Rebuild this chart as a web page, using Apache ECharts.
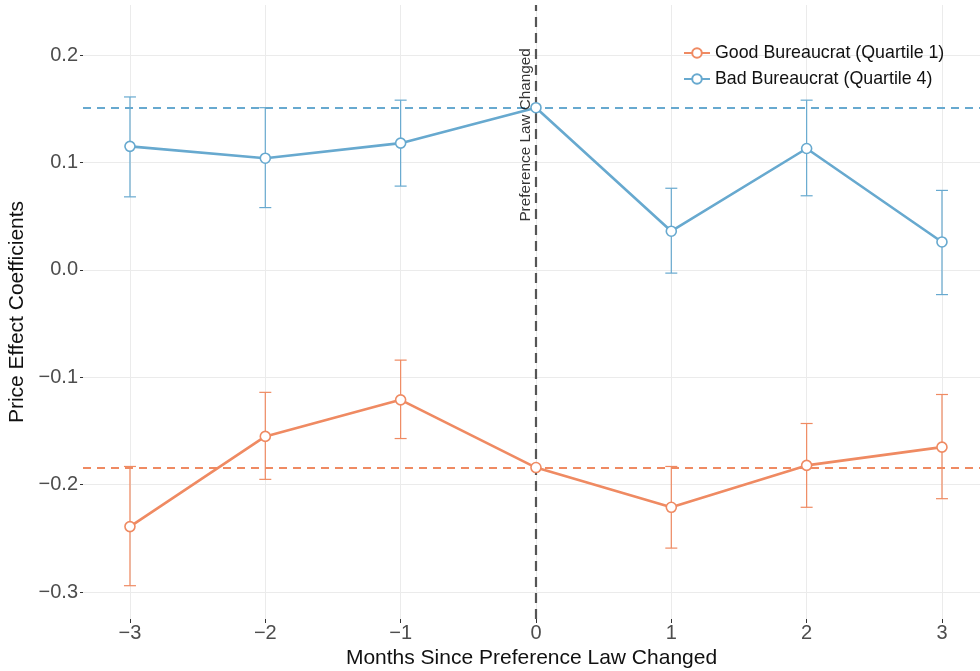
<!DOCTYPE html>
<html><head><meta charset="utf-8">
<script src="https://cdn.jsdelivr.net/npm/echarts@6/dist/echarts.min.js"></script>
<style>html,body{margin:0;padding:0;background:#fff}#c{width:980px;height:671px}</style>
</head><body><div id="c"></div>
<script>
const months   = [-3, -2, -1, 0, 1, 2, 3];
const goodEst  = [-0.239, -0.155, -0.121, -0.184, -0.221, -0.182, -0.165];
const goodLow  = [-0.294, -0.195, -0.157, null, -0.259, -0.221, -0.213];
const goodHigh = [-0.183, -0.114, -0.084, null, -0.183, -0.143, -0.116];
const badEst   = [0.115, 0.104, 0.118, 0.151, 0.036, 0.113, 0.026];
const badLow   = [0.068, 0.058, 0.078, null, -0.003, 0.069, -0.023];
const badHigh  = [0.161, 0.151, 0.158, null, 0.076, 0.158, 0.074];
const goodRef  = -0.184;
const badRef   = 0.151;
const yTicks   = [-0.3, -0.2, -0.1, 0, 0.1, 0.2];
const xTicks   = [-3, -2, -1, 0, 1, 2, 3];
const goodName = 'Good Bureaucrat (Quartile 1)';
const badName  = 'Bad Bureaucrat (Quartile 4)';
const annotText = 'Preference Law Changed';

const ORANGE = '#EF8A62', BLUE = '#67A9CF';
const FONT = '"Liberation Sans", Arial, sans-serif';
const fmtNum = v => {
  const r = Math.round(v * 10) / 10;
  const s = Math.abs(r).toFixed(1);
  return r < 0 ? '\u2212' + s : s;
};
const fmtInt = v => (v < 0 ? '\u2212' + Math.abs(v) : String(v));

function errData(low, high) {
  const out = [];
  months.forEach((m, i) => { if (low[i] != null) out.push([m, low[i], high[i]]); });
  return out;
}
function errRender(color) {
  return function (params, api) {
    const x = api.value(0);
    const lo = api.coord([x, api.value(1)]);
    const hi = api.coord([x, api.value(2)]);
    const hw = 6;
    const st = { stroke: color, lineWidth: 1.2 };
    return { type: 'group', children: [
      { type: 'line', shape: { x1: lo[0], y1: lo[1], x2: hi[0], y2: hi[1] }, style: st },
      { type: 'line', shape: { x1: lo[0] - hw, y1: lo[1], x2: lo[0] + hw, y2: lo[1] }, style: st },
      { type: 'line', shape: { x1: hi[0] - hw, y1: hi[1], x2: hi[0] + hw, y2: hi[1] }, style: st }
    ]};
  };
}
function lineSeries(name, est, color, ref) {
  return {
    name, type: 'line', data: months.map((m, i) => [m, est[i]]),
    symbol: 'circle', symbolSize: 10, z: 5,
    itemStyle: { color: '#fff', borderColor: color, borderWidth: 1.6 },
    lineStyle: { color, width: 2.6 },
    emphasis: { disabled: true },
    markLine: {
      silent: true, symbol: 'none', label: { show: false }, precision: 4,
      lineStyle: { color, type: [8, 6], width: 2 },
      data: [{ yAxis: ref }]
    }
  };
}

const chart = echarts.init(document.getElementById('c'));
chart.setOption({
  animation: false,
  backgroundColor: '#fff',
  textStyle: { fontFamily: FONT },
  grid: { left: 83, top: 5, width: 897, height: 614, containLabel: false, outerBoundsMode: 'none' },
  legend: {
    orient: 'vertical', left: 683, top: 44, padding: 0,
    itemWidth: 26, itemHeight: 12, itemGap: 8,
    textStyle: { fontFamily: FONT, fontSize: 17.8, color: '#111' },
    data: [goodName, badName]
  },
  xAxis: {
    type: 'value', min: -3.347, max: 3.281,
    name: 'Months Since Preference Law Changed', nameLocation: 'middle', nameGap: 28,
    nameTextStyle: { fontFamily: FONT, fontSize: 21, color: '#111' },
    axisLine: { show: false, onZero: false },
    axisTick: { show: true, length: 4, lineStyle: { color: '#333' }, customValues: xTicks },
    axisLabel: { customValues: xTicks, formatter: fmtInt, fontFamily: FONT, fontSize: 20, color: '#4D4D4D', margin: 4 },
    splitLine: { show: true, lineStyle: { color: '#EBEBEB', width: 1 } }
  },
  yAxis: {
    type: 'value', min: -0.325, max: 0.2466,
    name: 'Price Effect Coefficients', nameLocation: 'middle', nameGap: 50, nameRotate: 90,
    nameTextStyle: { fontFamily: FONT, fontSize: 21, color: '#111' },
    axisLine: { show: false, onZero: false },
    axisTick: { show: true, length: 3, lineStyle: { color: '#333' }, customValues: yTicks },
    axisLabel: { customValues: yTicks, formatter: fmtNum, fontFamily: FONT, fontSize: 20, color: '#4D4D4D', margin: 5 },
    splitLine: { show: true, lineStyle: { color: '#EBEBEB', width: 1 } }
  },
  series: [
    {
      type: 'line', data: [], silent: true, z: 3,
      markLine: {
        silent: true, symbol: 'none', label: { show: false },
        lineStyle: { color: '#555', type: [10, 6], width: 2.2 },
        data: [{ xAxis: 0 }]
      }
    },
    {
      type: 'custom', data: errData(goodLow, goodHigh), renderItem: errRender(ORANGE),
      silent: true, z: 4, encode: { x: 0, y: [1, 2] }
    },
    {
      type: 'custom', data: errData(badLow, badHigh), renderItem: errRender(BLUE),
      silent: true, z: 4, encode: { x: 0, y: [1, 2] }
    },
    lineSeries(goodName, goodEst, ORANGE, goodRef),
    lineSeries(badName, badEst, BLUE, badRef),
    {
      type: 'scatter', data: [[-0.078, 0.1257]], symbolSize: 0, silent: true, z: 6,
      label: {
        show: true, position: 'inside', rotate: 90, formatter: annotText,
        fontFamily: FONT, fontSize: 15.3, color: '#000'
      }
    }
  ]
});
</script>
</body></html>
